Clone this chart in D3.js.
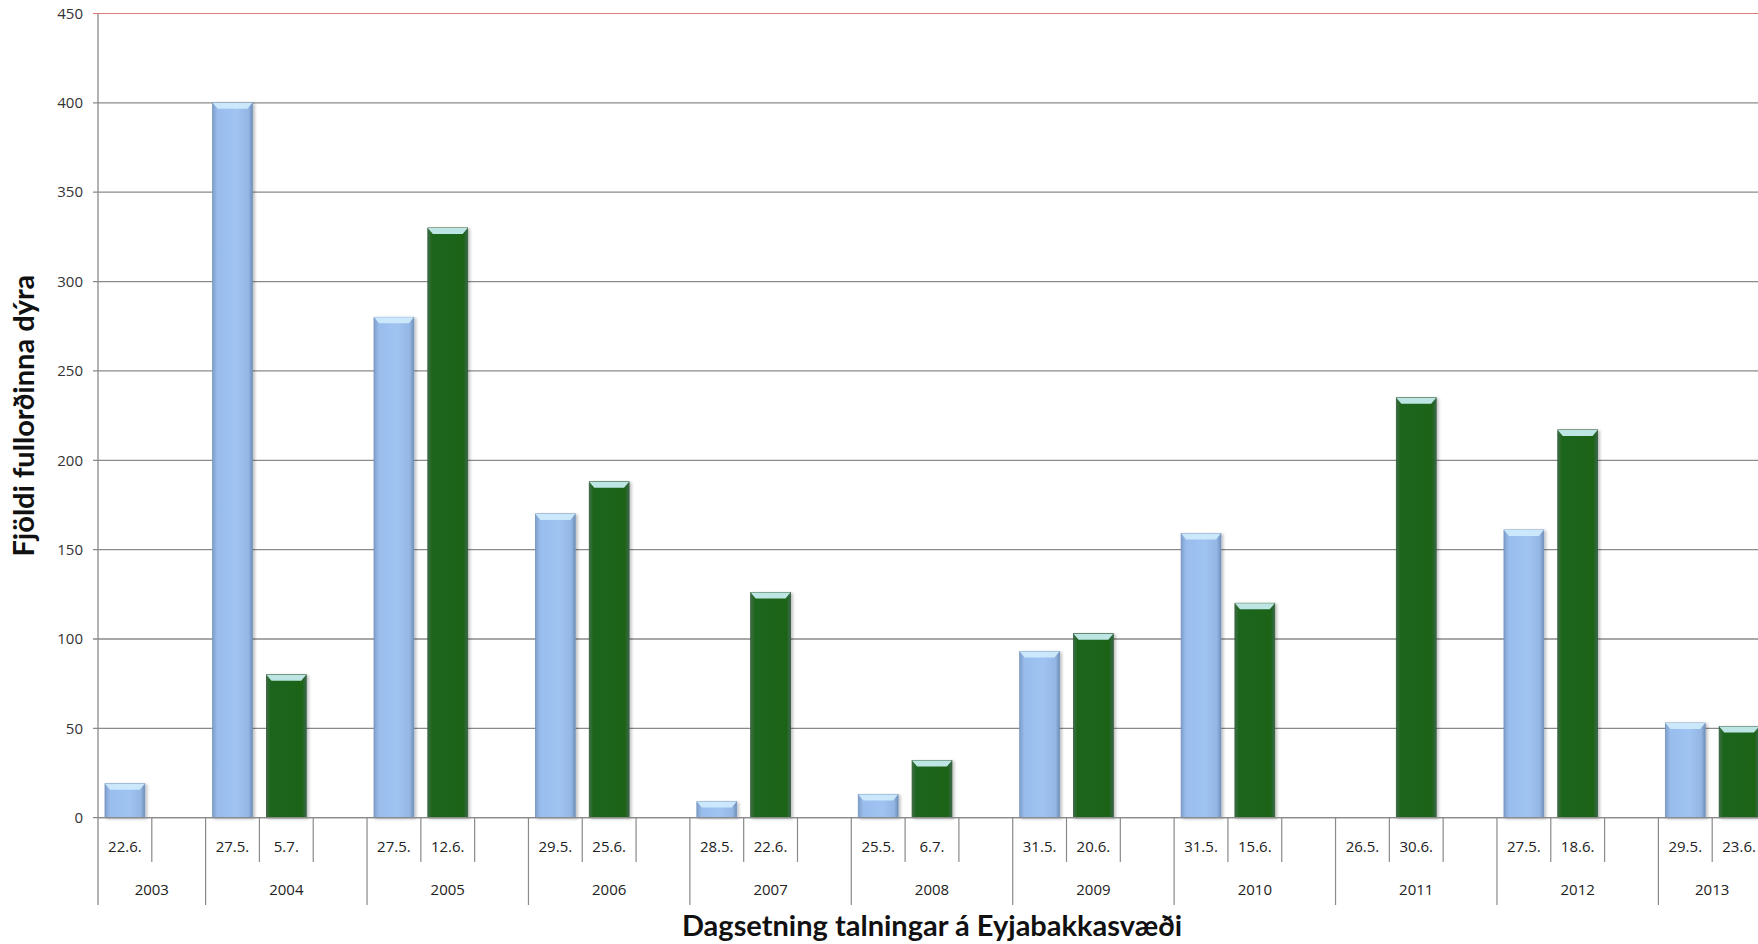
<!DOCTYPE html>
<html>
<head>
<meta charset="utf-8">
<script src="https://cdn.jsdelivr.net/npm/d3@7"></script>
<style>
  body { margin: 0; background: #fff; }
  svg { display: block; font-family: "Open Sans", "DejaVu Sans", sans-serif; }
</style>
</head>
<body>
<div id="chart"></div>
<script>
// Counts of adult animals per survey date, Eyjabakkar area
var years = ["2003", "2004", "2005", "2006", "2007", "2008", "2009", "2010", "2011", "2012", "2013"];
var firstDates = ["22.6.", "27.5.", "27.5.", "29.5.", "28.5.", "25.5.", "31.5.", "31.5.", "26.5.", "27.5.", "29.5."];
var secondDates = ["", "5.7.", "12.6.", "25.6.", "22.6.", "6.7.", "20.6.", "15.6.", "30.6.", "18.6.", "23.6."];
var firstCounts = [19, 400, 280, 170, 9, 13, 93, 159, 0, 161, 53];
var secondCounts = [null, 80, 330, 188, 126, 32, 103, 120, 235, 217, 51];
var yTicks = [0, 50, 100, 150, 200, 250, 300, 350, 400, 450];

(function() {
  var width = 1758, height = 944;
  var plotLeft = 98, plotRight = 1766, plotTop = 13.5, plotBottom = 817.7;

  // build the category slots (date, then blank spacer between years)
  var slots = [];
  years.forEach(function(yr, i) {
    slots.push({ year: yr, label: firstDates[i], value: firstCounts[i], kind: "first" });
    if (secondDates[i] !== "") {
      slots.push({ year: yr, label: secondDates[i], value: secondCounts[i], kind: "second" });
    }
    if (i < years.length - 1) {
      slots.push({ year: yr, label: "", value: null, kind: "blank" });
    }
  });
  slots.forEach(function(d, i) { d.idx = i; });

  var svg = d3.select("#chart").append("svg")
    .attr("width", width)
    .attr("height", height);

  var x = d3.scaleBand()
    .domain(slots.map(function(d) { return d.idx; }))
    .range([plotLeft, plotRight])
    .paddingInner(0.26)
    .paddingOuter(0.13);

  var y = d3.scaleLinear().domain([0, 450]).range([plotBottom, plotTop]);

  var step = x.step();
  var slotStart = function(i) { return x(i) - step * 0.13; };
  var bw = x.bandwidth();

  // gradients for the bars
  var defs = svg.append("defs");
  var blueGrad = defs.append("linearGradient").attr("id", "blueGrad");
  blueGrad.append("stop").attr("offset", "0%").attr("stop-color", "#7f9fcb");
  blueGrad.append("stop").attr("offset", "12%").attr("stop-color", "#98bcec");
  blueGrad.append("stop").attr("offset", "60%").attr("stop-color", "#a0c4f2");
  blueGrad.append("stop").attr("offset", "90%").attr("stop-color", "#93b6e4");
  blueGrad.append("stop").attr("offset", "100%").attr("stop-color", "#6f8fb8");
  var greenGrad = defs.append("linearGradient").attr("id", "greenGrad");
  greenGrad.append("stop").attr("offset", "0%").attr("stop-color", "#3f6e4a");
  greenGrad.append("stop").attr("offset", "10%").attr("stop-color", "#1f651b");
  greenGrad.append("stop").attr("offset", "90%").attr("stop-color", "#1e6419");
  greenGrad.append("stop").attr("offset", "100%").attr("stop-color", "#3c6850");

  var shadow = defs.append("filter").attr("id", "shadow")
    .attr("x", "-20%").attr("y", "-5%").attr("width", "150%").attr("height", "115%");
  shadow.append("feDropShadow").attr("dx", 2).attr("dy", 1).attr("stdDeviation", 1.5)
    .attr("flood-color", "#000").attr("flood-opacity", 0.25);

  // gridlines
  svg.append("g").selectAll("line")
    .data(yTicks)
    .enter().append("line")
    .attr("x1", plotLeft - 5)
    .attr("x2", plotRight)
    .attr("y1", function(d) { return y(d); })
    .attr("y2", function(d) { return y(d); })
    .attr("stroke", function(d) { return d === 450 ? "#e07a7a" : "#8a8a8a"; })
    .attr("stroke-width", function(d) { return d === 450 ? 1 : 1.3; });

  // y tick labels
  svg.append("g").selectAll("text")
    .data(yTicks)
    .enter().append("text")
    .attr("x", plotLeft - 15)
    .attr("y", function(d) { return y(d); })
    .attr("dy", "0.35em")
    .attr("text-anchor", "end")
    .attr("font-size", 15)
    .attr("fill", "#333")
    .text(function(d) { return d; });

  // bars
  var bars = slots.filter(function(d) { return d.value !== null && d.value > 0; });
  var barG = svg.append("g");
  barG.selectAll("rect")
    .data(bars)
    .enter().append("rect")
    .attr("x", function(d) { return x(d.idx); })
    .attr("y", function(d) { return y(d.value); })
    .attr("width", bw)
    .attr("height", function(d) { return y(0) - y(d.value); })
    .attr("fill", function(d) { return d.kind === "first" ? "url(#blueGrad)" : "url(#greenGrad)"; })
    .attr("stroke", function(d) { return d.kind === "first" ? "#7393bf" : "#2d5a33"; })
    .attr("stroke-width", 0.8)
    .attr("filter", "url(#shadow)");

  // bevel highlight on top of each bar
  barG.selectAll("path")
    .data(bars)
    .enter().append("path")
    .attr("d", function(d) {
      var x0 = x(d.idx), x1 = x0 + bw, yt = y(d.value);
      var h = Math.min(6, (y(0) - yt) / 2), ins = 5;
      return "M" + x0 + "," + yt + "L" + x1 + "," + yt +
        "L" + (x1 - ins) + "," + (yt + h) + "L" + (x0 + ins) + "," + (yt + h) + "Z";
    })
    .attr("fill", function(d) { return d.kind === "first" ? "#cdeafc" : "#c6ecee"; })
    .attr("opacity", 0.95);

  // category axis
  var axisG = svg.append("g");
  axisG.append("line")
    .attr("x1", plotLeft).attr("x2", plotRight)
    .attr("y1", y(0)).attr("y2", y(0))
    .attr("stroke", "#8a8a8a").attr("stroke-width", 1.3);
  axisG.append("line")
    .attr("x1", plotLeft).attr("x2", plotLeft)
    .attr("y1", plotTop).attr("y2", 905)
    .attr("stroke", "#8a8a8a").attr("stroke-width", 1.3);

  // ticks between dates inside a year, long ticks between years
  var tickData = slots.slice(1).map(function(d, i) {
    return { pos: slotStart(d.idx), yearStart: d.year !== slots[i].year };
  });
  tickData.push({ pos: plotRight, yearStart: true });
  axisG.selectAll("line.tick")
    .data(tickData)
    .enter().append("line")
    .attr("class", "tick")
    .attr("x1", function(d) { return d.pos; })
    .attr("x2", function(d) { return d.pos; })
    .attr("y1", y(0))
    .attr("y2", function(d) { return d.yearStart ? 905 : 862; })
    .attr("stroke", "#8a8a8a").attr("stroke-width", 1.2);

  axisG.selectAll("text.date")
    .data(slots.filter(function(d) { return d.label !== ""; }))
    .enter().append("text")
    .attr("class", "date")
    .attr("x", function(d) { return x(d.idx) + bw / 2; })
    .attr("y", 847)
    .attr("dy", "0.35em")
    .attr("text-anchor", "middle")
    .attr("font-size", 15)
    .attr("fill", "#222")
    .text(function(d) { return d.label; });

  var yearSpans = years.map(function(yr) {
    var s = slots.filter(function(d) { return d.year === yr; });
    return { year: yr, start: slotStart(s[0].idx), end: slotStart(s[s.length - 1].idx) + step };
  });
  axisG.selectAll("text.year")
    .data(yearSpans)
    .enter().append("text")
    .attr("class", "year")
    .attr("x", function(d) { return (d.start + d.end) / 2; })
    .attr("y", 890)
    .attr("dy", "0.35em")
    .attr("text-anchor", "middle")
    .attr("font-size", 15)
    .attr("fill", "#222")
    .text(function(d) { return d.year; });

  // axis titles
  svg.append("text")
    .attr("x", (plotLeft + plotRight) / 2)
    .attr("y", 936)
    .attr("text-anchor", "middle")
    .attr("font-family", "Lato, 'Open Sans', sans-serif")
    .attr("font-weight", "bold")
    .attr("font-size", 29)
    .attr("fill", "#111")
    .text("Dagsetning talningar á Eyjabakkasvæði");

  svg.append("text")
    .attr("transform", "translate(34," + ((plotTop + plotBottom) / 2) + ") rotate(-90)")
    .attr("text-anchor", "middle")
    .attr("font-family", "Lato, 'Open Sans', sans-serif")
    .attr("font-weight", "bold")
    .attr("font-size", 29)
    .attr("fill", "#111")
    .text("Fjöldi fullorðinna dýra");
})();
</script>
</body>
</html>
